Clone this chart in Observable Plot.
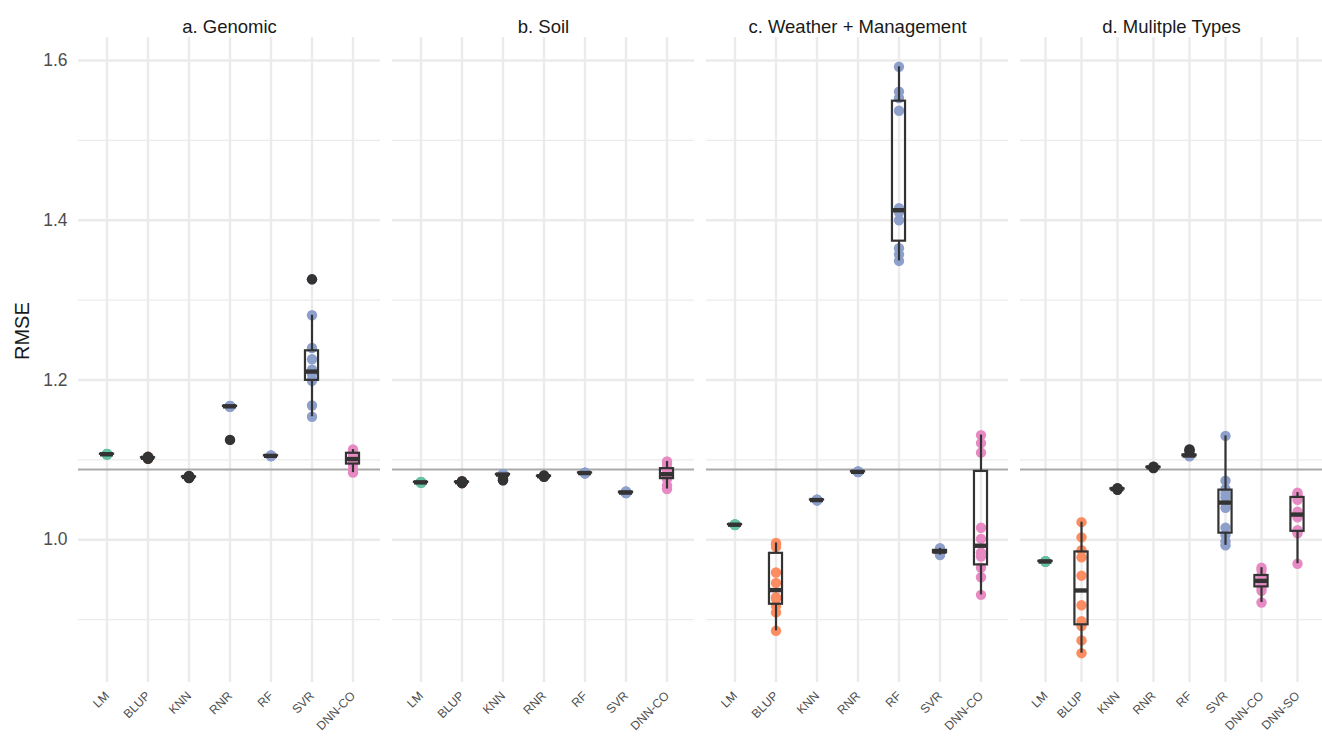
<!DOCTYPE html>
<html><head><meta charset="utf-8">
<script src="https://cdn.jsdelivr.net/npm/d3@7"></script>
<script src="https://cdn.jsdelivr.net/npm/@observablehq/plot@0.6"></script>
<style>
body{margin:0;background:#fff;font-family:"Liberation Sans",Arial,sans-serif;}
#row{display:flex;gap:12px;width:1322px;height:736px;}
</style></head><body><div id="row"></div>
<script>
// ---- data ----
const facetTitles = ["a. Genomic", "b. Soil", "c. Weather + Management", "d. Mulitple Types"];
const methods7 = ["LM", "BLUP", "KNN", "RNR", "RF", "SVR", "DNN-CO"];
const methods8 = ["LM", "BLUP", "KNN", "RNR", "RF", "SVR", "DNN-CO", "DNN-SO"];
const colorMethods = ["LM", "BLUP", "KNN", "RNR", "RF", "SVR", "DNN-CO", "DNN-SO"];
const colorRange = ["#66C2A5", "#FC8D62", "#8DA0CB", "#8DA0CB", "#8DA0CB", "#8DA0CB", "#E78AC3", "#E78AC3"];
const yTicks = [1.0, 1.2, 1.4, 1.6];
const yMinorTicks = [0.9, 1.1, 1.3, 1.5];
const yDomain = [0.8213, 1.6287];
const baselineRMSE = 1.088;

const genomicRMSE = [
  [1.1066, 1.1068, 1.1069, 1.107, 1.107, 1.107, 1.1071, 1.1072, 1.1073, 1.1074],
  [1.1012, 1.1018, 1.1024, 1.1025, 1.1025, 1.1026, 1.1026, 1.1027, 1.1032, 1.1038],
  [1.0772, 1.0778, 1.0784, 1.0785, 1.0785, 1.0786, 1.0786, 1.0787, 1.0792, 1.0798],
  [1.125, 1.1664, 1.1667, 1.1669, 1.167, 1.167, 1.1671, 1.1672, 1.1674, 1.1676],
  [1.1046, 1.1048, 1.1049, 1.105, 1.105, 1.105, 1.1051, 1.1052, 1.1053, 1.1054],
  [1.154, 1.168, 1.199, 1.201, 1.208, 1.213, 1.226, 1.240, 1.281, 1.326],
  [1.084, 1.088, 1.094, 1.097, 1.100, 1.102, 1.106, 1.109, 1.110, 1.113]
];
const soilRMSE = [
  [1.0714, 1.0716, 1.0717, 1.0718, 1.0718, 1.0718, 1.0719, 1.072, 1.0721, 1.0722],
  [1.0708, 1.0714, 1.0719, 1.072, 1.072, 1.0721, 1.0721, 1.0722, 1.0727, 1.0733],
  [1.0745, 1.0762, 1.0812, 1.0815, 1.0815, 1.0816, 1.0816, 1.0818, 1.082, 1.0822],
  [1.0788, 1.079, 1.0793, 1.0795, 1.0795, 1.0796, 1.0796, 1.0797, 1.0801, 1.0806],
  [1.0831, 1.0833, 1.0834, 1.0835, 1.0835, 1.0835, 1.0836, 1.0837, 1.0838, 1.0839],
  [1.0583, 1.0585, 1.0587, 1.0589, 1.059, 1.0591, 1.0594, 1.0597, 1.0601, 1.0606],
  [1.0635, 1.068, 1.076, 1.078, 1.081, 1.083, 1.086, 1.090, 1.095, 1.098]
];
const weatherRMSE = [
  [1.0184, 1.0186, 1.0187, 1.0188, 1.0188, 1.0188, 1.0189, 1.019, 1.0191, 1.0192],
  [0.886, 0.909, 0.917, 0.926, 0.928, 0.946, 0.959, 0.991, 0.994, 0.996],
  [1.0493, 1.0495, 1.0496, 1.0497, 1.0497, 1.0497, 1.0498, 1.0499, 1.05, 1.0501],
  [1.0846, 1.0848, 1.0849, 1.085, 1.085, 1.085, 1.0851, 1.0852, 1.0853, 1.0854],
  [1.349, 1.357, 1.365, 1.400, 1.410, 1.415, 1.537, 1.553, 1.561, 1.592],
  [0.9808, 0.9822, 0.9835, 0.9843, 0.985, 0.9856, 0.9862, 0.9868, 0.9879, 0.9893],
  [0.931, 0.953, 0.965, 0.979, 0.984, 1.001, 1.015, 1.109, 1.121, 1.131]
];
const multipleRMSE = [
  [0.9724, 0.9726, 0.9727, 0.9728, 0.9728, 0.9728, 0.9729, 0.973, 0.9731, 0.9732],
  [0.858, 0.874, 0.892, 0.898, 0.918, 0.955, 0.978, 0.987, 1.003, 1.022],
  [1.0626, 1.0631, 1.0634, 1.0635, 1.0635, 1.0636, 1.0636, 1.0637, 1.064, 1.0645],
  [1.0898, 1.0902, 1.0905, 1.0906, 1.0906, 1.0907, 1.0907, 1.0908, 1.0911, 1.0915],
  [1.1045, 1.105, 1.105, 1.1055, 1.1055, 1.1055, 1.106, 1.106, 1.111, 1.113],
  [0.993, 0.998, 1.006, 1.015, 1.040, 1.053, 1.058, 1.0635, 1.074, 1.130],
  [0.9215, 0.936, 0.940, 0.944, 0.947, 0.950, 0.953, 0.956, 0.962, 0.965],
  [0.970, 1.008, 1.010, 1.012, 1.028, 1.035, 1.050, 1.054, 1.057, 1.059]
];

// ---- drawing ----
const FONT = '"Liberation Sans", Arial, Helvetica, sans-serif';
const BOXC = "#333333";
const R = 5.2;

function boxStats(values) {
  const s = values.slice().sort(d3.ascending);
  const q1 = d3.quantile(s, 0.25), med = d3.quantile(s, 0.5), q3 = d3.quantile(s, 0.75);
  const iqr = q3 - q1, lo = q1 - 1.5 * iqr - 1e-9, hi = q3 + 1.5 * iqr + 1e-9;
  const inside = s.filter(v => v >= lo && v <= hi);
  return {q1, med, q3, wlo: d3.min(inside), whi: d3.max(inside), outliers: s.filter(v => v < lo || v > hi)};
}

function panel(title, methods, values, first) {
  const points = methods.flatMap((m, i) => values[i].map(v => ({method: m, rmse: v})));
  const stats = methods.map((m, i) => ({method: m, ...boxStats(values[i])}));
  const outl = stats.flatMap(s => s.outliers.map(v => ({method: s.method, rmse: v})));
  const W = first ? 380 : 302, ML = first ? 78 : 0;
  const bw = 302 / (methods.length + 0.2);
  const inset = (bw - 14) / 2;
  const marks = [
    Plot.ruleY(yMinorTicks, {y: d => d, stroke: "#ebebeb", strokeWidth: 1.2}),
    Plot.ruleY(yTicks, {y: d => d, stroke: "#ebebeb", strokeWidth: 2.4}),
    Plot.ruleX(methods, {x: d => d, stroke: "#ebebeb", strokeWidth: 2.4}),
    Plot.ruleY([baselineRMSE], {y: d => d, stroke: "#a9a9a9", strokeWidth: 2}),
    Plot.dot(points, {x: "method", y: "rmse", fill: "method", r: R}),
    Plot.ruleX(stats, {x: "method", y1: "wlo", y2: "q1", stroke: BOXC, strokeWidth: 2.2}),
    Plot.ruleX(stats, {x: "method", y1: "q3", y2: "whi", stroke: BOXC, strokeWidth: 2.2}),
    Plot.barY(stats, {x: "method", y1: "q1", y2: "q3", fill: "none", stroke: BOXC, strokeWidth: 2.2, insetLeft: inset, insetRight: inset}),
    Plot.tickY(stats, {x: "method", y: "med", stroke: BOXC, strokeWidth: 4.4, insetLeft: inset, insetRight: inset}),
    Plot.dot(outl, {x: "method", y: "rmse", fill: BOXC, r: R}),
    Plot.text([title], {text: d => d, frameAnchor: "top", dy: -18, fontSize: 18.5, fill: "#1a1a1a"}),
    Plot.text(methods, {x: d => d, text: d => d, frameAnchor: "bottom", dy: 14, dx: 3, rotate: -45, textAnchor: "end", fontSize: 12.2, fill: "#4d4d4d"})
  ];
  if (first) {
    marks.push(Plot.axisY(yTicks, {tickSize: 0, tickPadding: 11, fontSize: 17.5, tickFormat: d3.format(".1f"), label: null}));
    marks.push(Plot.text(["RMSE"], {text: d => d, frameAnchor: "left", rotate: -90, dx: -56, fontSize: 20, fill: "#1a1a1a"}));
  }
  return Plot.plot({
    width: W, height: 736, marginTop: 37, marginBottom: 54, marginLeft: ML, marginRight: 0,
    style: {fontFamily: FONT, background: "white", color: "#4d4d4d", overflow: "visible"},
    x: {type: "band", domain: methods, paddingInner: 0, paddingOuter: 0.1, axis: null},
    y: {domain: yDomain, axis: null},
    color: {domain: colorMethods, range: colorRange},
    marks
  });
}

const row = document.getElementById("row");
row.append(panel(facetTitles[0], methods7, genomicRMSE, true));
row.append(panel(facetTitles[1], methods7, soilRMSE, false));
row.append(panel(facetTitles[2], methods7, weatherRMSE, false));
row.append(panel(facetTitles[3], methods8, multipleRMSE, false));
</script></body></html>
